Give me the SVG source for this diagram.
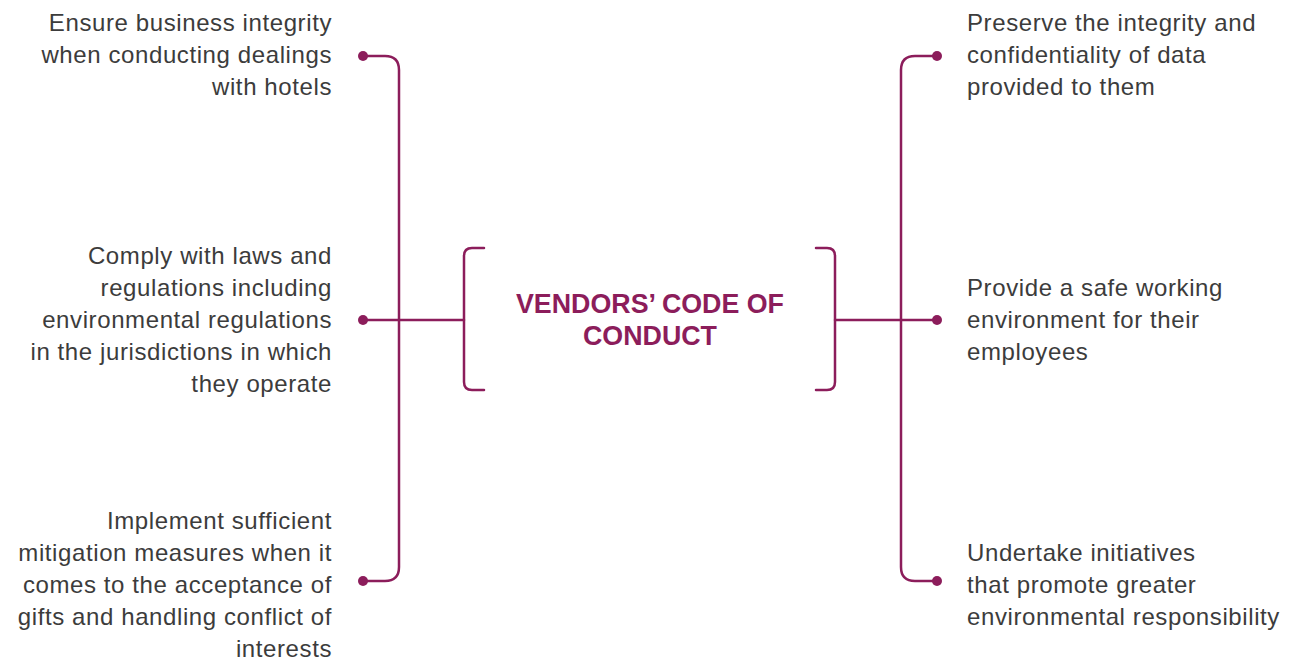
<svg xmlns="http://www.w3.org/2000/svg" width="1294" height="662" viewBox="0 0 1294 662">
<style>
.t{font-family:"Liberation Sans",Arial,sans-serif;font-size:24px;letter-spacing:0.6px;fill:#3c3c3c}
.l{text-anchor:end}
.ttl{font-family:"Liberation Sans",Arial,sans-serif;font-size:26.8px;font-weight:bold;fill:#8c1d5b;text-anchor:middle}
.c{fill:none;stroke:#8c1d5b;stroke-width:2.5;stroke-linecap:round}
.d{fill:#8c1d5b}
</style>
<rect width="1294" height="662" fill="#ffffff"/>
<g id="connectors">
<path class="c" d="M363,56 H385 Q399,56 399,70 V567 Q399,581 385,581 H363"/>
<path class="c" d="M363,320 H464"/>
<path class="c" d="M937,56 H915 Q901,56 901,70 V567 Q901,581 915,581 H937"/>
<path class="c" d="M835,320 H937"/>
<circle class="d" cx="363" cy="56" r="5"/>
<circle class="d" cx="363" cy="320" r="5"/>
<circle class="d" cx="363" cy="581" r="5"/>
<circle class="d" cx="937" cy="56" r="5"/>
<circle class="d" cx="937" cy="320" r="5"/>
<circle class="d" cx="937" cy="581" r="5"/>
</g>
<g id="center">
<path class="c" d="M484,248 H472 Q464,248 464,256 V382 Q464,390 472,390 H484"/>
<path class="c" d="M816,248 H827 Q835,248 835,256 V382 Q835,390 827,390 H816"/>
<text class="ttl" x="650" y="313">VENDORS’ CODE OF</text>
<text class="ttl" x="650" y="345">CONDUCT</text>
</g>
<g id="left1">
<text class="t l" x="332" y="31">Ensure business integrity</text>
<text class="t l" x="332" y="63">when conducting dealings</text>
<text class="t l" x="332" y="95">with hotels</text>
</g>
<g id="left2">
<text class="t l" x="332" y="264">Comply with laws and</text>
<text class="t l" x="332" y="296">regulations including</text>
<text class="t l" x="332" y="328">environmental regulations</text>
<text class="t l" x="332" y="360">in the jurisdictions in which</text>
<text class="t l" x="332" y="392">they operate</text>
</g>
<g id="left3">
<text class="t l" x="332" y="529">Implement sufficient</text>
<text class="t l" x="332" y="561">mitigation measures when it</text>
<text class="t l" x="332" y="593">comes to the acceptance of</text>
<text class="t l" x="332" y="625">gifts and handling conflict of</text>
<text class="t l" x="332" y="657">interests</text>
</g>
<g id="right1">
<text class="t" x="967" y="31">Preserve the integrity and</text>
<text class="t" x="967" y="63">confidentiality of data</text>
<text class="t" x="967" y="95">provided to them</text>
</g>
<g id="right2">
<text class="t" x="967" y="296">Provide a safe working</text>
<text class="t" x="967" y="328">environment for their</text>
<text class="t" x="967" y="360">employees</text>
</g>
<g id="right3">
<text class="t" x="967" y="561">Undertake initiatives</text>
<text class="t" x="967" y="593">that promote greater</text>
<text class="t" x="967" y="625">environmental responsibility</text>
</g>
</svg>
